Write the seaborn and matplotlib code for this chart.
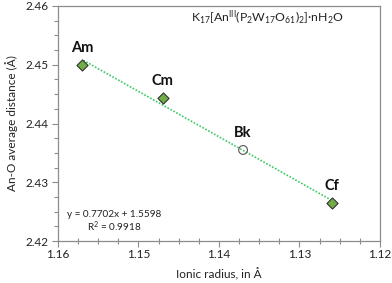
import matplotlib
matplotlib.use('Agg')
import matplotlib.pyplot as plt
import matplotlib.ticker as mticker
import pandas as pd
import seaborn as sns

# data
elements = ['Am', 'Cm', 'Bk', 'Cf']
ionic_radius = [1.157, 1.147, 1.137, 1.126]
an_o_distance = [2.4500, 2.4444, 2.4355, 2.4265]
measured = [True, True, False, True]

fit_text = 'y = 0.7702x + 1.5598'
r2_text = 'R$^2$ = 0.9918'
formula = r'K$_{17}$[An$^{III}$(P$_2$W$_{17}$O$_{61}$)$_2$]·nH$_2$O'

df = pd.DataFrame({'El': elements, 'r': ionic_radius,
                   'd': an_o_distance, 'measured': measured})

sns.set_style('ticks')
plt.rcParams['font.family'] = ['Lato', 'DejaVu Sans']
plt.rcParams['mathtext.default'] = 'regular'

fig = plt.figure(figsize=(3.92, 2.83), dpi=100)
ax = fig.add_axes([0.148, 0.148, 0.821, 0.831])

frame = '#8c8c8c'

# trend line (linear fit over all points)
sns.regplot(data=df, x='r', y='d', ax=ax, scatter=False, ci=None,
            line_kws=dict(color='#3cc864', linestyle=(0, (1, 1)), linewidth=1.2))

solid = df[df['measured']]
open_pts = df[~df['measured']]
sns.scatterplot(data=solid, x='r', y='d', ax=ax, marker='D', s=32,
                color='#70ad47', edgecolor='#333333', linewidth=0.8, zorder=5)
sns.scatterplot(data=open_pts, x='r', y='d', ax=ax, marker='o', s=40,
                facecolor='none', edgecolor='#555555', linewidth=0.8, zorder=5)

for _, row in df.iterrows():
    ax.annotate(row['El'], (row['r'], row['d']), textcoords='offset points',
                xytext=(0, 7), ha='center', va='bottom',
                fontsize=10.5, fontweight='bold', color='#111111')

ax.set_xlim(1.16, 1.12)
ax.set_ylim(2.42, 2.46)
ax.xaxis.set_major_locator(mticker.MultipleLocator(0.01))
ax.xaxis.set_minor_locator(mticker.MultipleLocator(0.0025))
ax.yaxis.set_major_locator(mticker.MultipleLocator(0.01))
ax.yaxis.set_minor_locator(mticker.MultipleLocator(0.0025))
ax.xaxis.set_major_formatter(mticker.FormatStrFormatter('%.2f'))
ax.yaxis.set_major_formatter(mticker.FormatStrFormatter('%.2f'))

ax.tick_params(axis='both', which='major', length=4, width=0.8, color=frame,
               labelsize=8.5, labelcolor='#222222')
ax.tick_params(axis='x', which='major', pad=1.5)
ax.tick_params(axis='y', which='major', pad=3)
ax.tick_params(axis='x', which='minor', direction='inout', length=4, width=0.8, color=frame)
ax.tick_params(axis='y', which='minor', direction='out', length=3, width=0.8, color=frame)

for sp in ax.spines.values():
    sp.set_color(frame)
    sp.set_linewidth(0.9)

ax.set_xlabel('Ionic radius, in Å', fontsize=8.5, color='#222222', labelpad=6)
ax.set_ylabel('An-O average distance (Å)', fontsize=8.5, color='#222222', labelpad=5)

ax.text(0.65, 0.95, formula, transform=ax.transAxes, ha='center', va='center',
        fontsize=8.8, color='#222222')
ax.text(0.174, 0.115, fit_text, transform=ax.transAxes, ha='center', va='center',
        fontsize=7.2, color='#222222')
ax.text(0.174, 0.06, r2_text, transform=ax.transAxes, ha='center', va='center',
        fontsize=7.2, color='#222222')

fig.savefig('out.png', dpi=100)
